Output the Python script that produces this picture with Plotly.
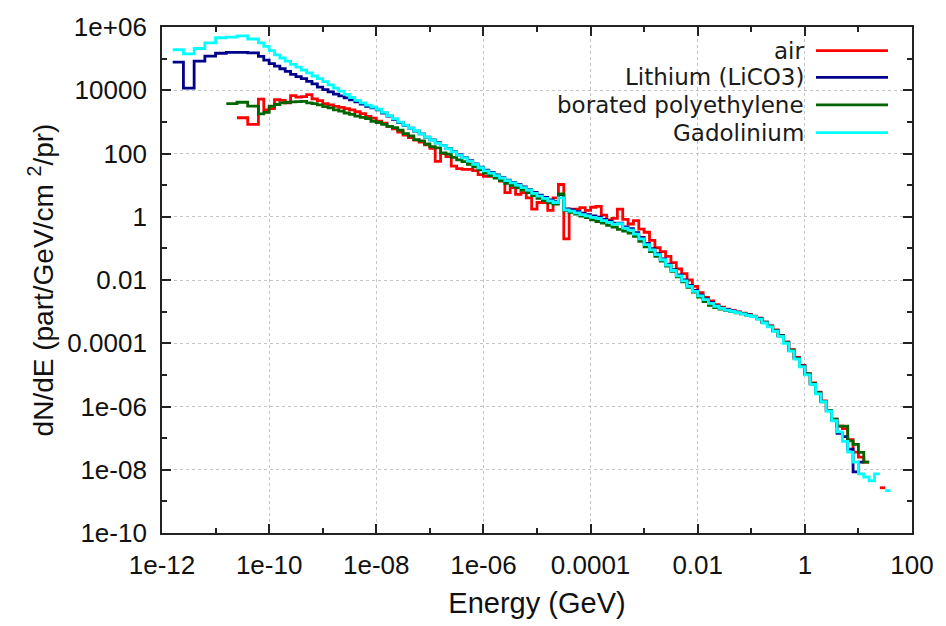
import numpy as np
import plotly.graph_objects as go

# ---- bin structure: log10(Energy / GeV) of bin lower edges ----
COARSE_EDGES = [-11.8, -11.6, -11.4, -11.2, -11.0, -10.8, -10.6, -10.4]
FINE_EDGES = [round(v, 1) for v in np.arange(-10.2, 1.65, 0.1)]
LOG_EDGES = COARSE_EDGES + FINE_EDGES + [1.7]

# ---- series: log10(dN/dE) per bin (None = empty bin) ----
N = None
AIR_LOG = [
    N, N, N, N, N, N, 3.13, 2.92,
    3.72, 3.38,
    3.42, 3.70, 3.68, 3.60, 3.83, 3.78, 3.80, 3.86, 3.73, 3.67,
    3.58, 3.54, 3.49, 3.46, 3.42, 3.38, 3.32, 3.26, 3.17, 3.12,
    3.02, 2.96, 2.86, 2.78, 2.68, 2.58, 2.50, 2.42, 2.36, 2.27,
    2.16, 1.75, 2.00, 1.90, 1.60, 1.52, 1.50, 1.50, 1.46, 1.33,
    1.28, 1.28, 1.25, 1.13, 0.76, 0.92, 0.71, 0.76, 0.60, 0.24,
    0.45, 0.45, 0.20, 0.60, 1.02, -0.70, 0.24, 0.24, 0.29, 0.20,
    0.30, 0.33, 0.05, -0.10, -0.05, 0.24, -0.08, -0.23, -0.12, -0.39,
    -0.49, -0.75, -0.98, -1.10, -1.25, -1.45, -1.65, -1.80, -2.00, -2.20,
    -2.40, -2.55, -2.66, -2.78, -2.86, -2.92, -2.97, -3.01, -3.05, -3.09,
    -3.14, -3.21, -3.33, -3.45, -3.58, -3.75, -3.96, -4.20, -4.45, -4.70,
    -4.96, -5.25, -5.55, -5.82, -6.12, -6.40, -6.62, -6.70, -7.05, -7.44,
    -7.60, -7.76, N, N, -8.57, N, N,
]
LITHIUM_LOG = [
    4.89, 4.07, 4.92, 5.08, 5.17, 5.20, 5.20, 5.18,
    5.07, 4.95,
    4.84, 4.76, 4.68, 4.60, 4.50, 4.43, 4.37, 4.28, 4.20, 4.10,
    4.02, 3.95, 3.88, 3.82, 3.76, 3.70, 3.63, 3.56, 3.49, 3.44,
    3.38, 3.28, 3.18, 3.08, 2.98, 2.89, 2.80, 2.71, 2.62, 2.52,
    2.43, 2.34, 2.25, 2.16, 2.06, 1.96, 1.87, 1.77, 1.67, 1.57,
    1.47, 1.40, 1.32, 1.24, 1.16, 1.09, 1.02, 0.94, 0.86, 0.77,
    0.68, 0.61, 0.53, 0.48, 0.70, 0.25, 0.22, 0.16, 0.11, 0.07,
    0.03, -0.01, -0.08, -0.14, -0.20, -0.20, -0.32, -0.38, -0.50, -0.65,
    -0.84, -1.01, -1.17, -1.33, -1.50, -1.67, -1.84, -2.00, -2.17, -2.33,
    -2.48, -2.60, -2.72, -2.82, -2.89, -2.94, -2.98, -3.02, -3.06, -3.10,
    -3.15, -3.22, -3.33, -3.46, -3.60, -3.76, -3.98, -4.22, -4.47, -4.72,
    -4.98, -5.28, -5.57, -5.84, -6.13, -6.42, -6.85, -6.95, -7.35, -8.07,
    -7.76, N, N, N, N, N, N,
]
BPE_LOG = [
    N, N, N, N, N, 3.58, 3.62, 3.50,
    3.25, 3.30,
    3.50, 3.55, 3.60, 3.62, 3.63, 3.64, 3.65, 3.60, 3.58, 3.54,
    3.48, 3.44, 3.38, 3.34, 3.28, 3.24, 3.18, 3.14, 3.10, 3.02,
    2.98, 2.92, 2.86, 2.82, 2.74, 2.63, 2.56, 2.44, 2.40, 2.30,
    2.22, 2.18, 2.02, 1.98, 1.88, 1.80, 1.74, 1.66, 1.58, 1.48,
    1.38, 1.30, 1.22, 1.14, 1.06, 0.99, 0.92, 0.84, 0.76, 0.67,
    0.58, 0.51, 0.44, 0.40, 0.72, 0.20, 0.14, 0.08, 0.02, -0.03,
    -0.10, -0.15, -0.20, -0.27, -0.33, -0.40, -0.45, -0.52, -0.62, -0.78,
    -0.95, -1.10, -1.25, -1.40, -1.56, -1.73, -1.90, -2.06, -2.23, -2.38,
    -2.54, -2.68, -2.80, -2.87, -2.92, -2.96, -3.00, -3.04, -3.07, -3.11,
    -3.15, -3.23, -3.34, -3.47, -3.61, -3.77, -3.98, -4.23, -4.48, -4.73,
    -4.97, -5.28, -5.57, -5.85, -6.12, -6.40, -6.62, -6.62, -7.09, -7.20,
    -7.45, -7.76, N, N, N, N, N,
]
GADOLINIUM_LOG = [
    5.28, 5.15, 5.32, 5.50, 5.66, 5.68, 5.72, 5.62,
    5.50, 5.39,
    5.25, 5.12, 5.02, 4.92, 4.82, 4.73, 4.64, 4.55, 4.45, 4.37,
    4.27, 4.17, 4.07, 3.97, 3.87, 3.77, 3.68, 3.60, 3.53, 3.47,
    3.40, 3.30, 3.20, 3.10, 2.99, 2.90, 2.80, 2.72, 2.62, 2.52,
    2.42, 2.33, 2.25, 2.15, 2.05, 1.95, 1.86, 1.76, 1.66, 1.55,
    1.45, 1.38, 1.30, 1.22, 1.14, 1.07, 1.00, 0.92, 0.84, 0.74,
    0.65, 0.58, 0.50, 0.45, 0.60, 0.22, 0.18, 0.12, 0.07, 0.03,
    -0.02, -0.05, -0.12, -0.18, -0.24, -0.22, -0.36, -0.42, -0.55, -0.70,
    -0.88, -1.05, -1.20, -1.36, -1.53, -1.70, -1.87, -2.03, -2.20, -2.36,
    -2.50, -2.62, -2.74, -2.83, -2.90, -2.95, -2.99, -3.03, -3.07, -3.12,
    -3.16, -3.24, -3.36, -3.48, -3.62, -3.78, -4.00, -4.25, -4.50, -4.75,
    -5.00, -5.30, -5.60, -5.85, -6.15, -6.45, -6.80, -7.10, -7.44, -7.76,
    -8.13, -8.23, -8.35, -8.13, N, -8.66, N,
]

SERIES_NAMES = ["air", "Lithium (LiCO3)", "borated polyethylene", "Gadolinium"]
SERIES_VALUES = [AIR_LOG, LITHIUM_LOG, BPE_LOG, GADOLINIUM_LOG]
SERIES_COLORS = ["#ff0000", "#00008b", "#006400", "#00ffff"]

X_TICKS = [1e-12, 1e-10, 1e-8, 1e-6, 1e-4, 1e-2, 1, 100]
X_TICK_TEXT = ["1e-12", "1e-10", "1e-08", "1e-06", "0.0001", "0.01", "1", "100"]
X_MINOR = [1e-11, 1e-9, 1e-7, 1e-5, 1e-3, 1e-1, 10]
Y_TICKS = [1e-10, 1e-8, 1e-6, 1e-4, 1e-2, 1, 100, 1e4, 1e6]
Y_TICK_TEXT = ["1e-10", "1e-08", "1e-06", "0.0001", "0.01", "1", "100", "10000", "1e+06"]
Y_MINOR = [1e-9, 1e-7, 1e-5, 1e-3, 1e-1, 10, 1e3, 1e5]

fig = go.Figure()


def step_xy(vals):
    xs, ys = [], []
    n = len(vals)
    for i, v in enumerate(vals):
        if v is None:
            continue
        if (i == 0 or vals[i - 1] is None) and xs:
            xs.append(None)
            ys.append(None)
        xs.append(10 ** LOG_EDGES[i])
        ys.append(10 ** v)
        if i + 1 >= n or vals[i + 1] is None:
            xs.append(10 ** LOG_EDGES[i + 1])
            ys.append(10 ** v)
    return xs, ys


for name, vals, color in zip(SERIES_NAMES, SERIES_VALUES, SERIES_COLORS):
    xs, ys = step_xy(vals)
    fig.add_trace(go.Scatter(x=xs, y=ys, mode="lines", name=name,
                             line=dict(color=color, width=2.8, shape="hv"),
                             connectgaps=False, showlegend=False))

# legend drawn gnuplot-style: text right-aligned, line sample on its right
L, R, T, B = 162, 912, 22, 535
W, H = R - L, B - T
legend_rows = [46, 73, 101, 129]
for name, color, py in zip(SERIES_NAMES, SERIES_COLORS, legend_rows):
    yp = (B - py) / H
    fig.add_annotation(x=(806 - L) / W, y=yp, xref="paper", yref="paper",
                       text=name, showarrow=False, xanchor="right", yanchor="middle",
                       font=dict(family="DejaVu Sans", size=23, color="#1a1a1a"))
    fig.add_shape(type="line", xref="paper", yref="paper",
                  x0=(816 - L) / W, x1=(888 - L) / W, y0=yp, y1=yp,
                  line=dict(color=color, width=2.8))

axis_common = dict(
    type="log", ticks="inside", ticklen=9, tickwidth=1.5, tickcolor="#222222",
    showline=True, linecolor="#222222", linewidth=1.8, mirror="ticks",
    showgrid=True, gridcolor="#c4c4c4", gridwidth=1, griddash="dot",
    zeroline=False,
    tickfont=dict(family="Liberation Sans", size=26, color="#111111"),
)

fig.update_layout(
    width=946, height=626,
    margin=dict(l=L, r=946 - R, t=T, b=626 - B),
    paper_bgcolor="white", plot_bgcolor="white",
    xaxis=dict(axis_common, range=[-12, 2], tickmode="array",
               tickvals=X_TICKS, ticktext=X_TICK_TEXT, ticklabelstandoff=8,
               minor=dict(tickmode="array", tickvals=X_MINOR, ticks="inside",
                          ticklen=5, tickwidth=1.5, tickcolor="#222222", showgrid=False),
               title=dict(text="Energy (GeV)", standoff=14,
                          font=dict(family="Liberation Sans", size=29, color="#111111"))),
    yaxis=dict(axis_common, range=[-10, 6], tickmode="array",
               tickvals=Y_TICKS, ticktext=Y_TICK_TEXT, ticklabelstandoff=8,
               minor=dict(tickmode="array", tickvals=Y_MINOR, ticks="inside",
                          ticklen=5, tickwidth=1.5, tickcolor="#222222", showgrid=False),
               title=dict(text="dN/dE (part/GeV/cm <sup>2</sup>/pr)", standoff=6,
                          font=dict(family="Liberation Sans", size=28, color="#111111"))),
)

fig.write_html("out.html")
